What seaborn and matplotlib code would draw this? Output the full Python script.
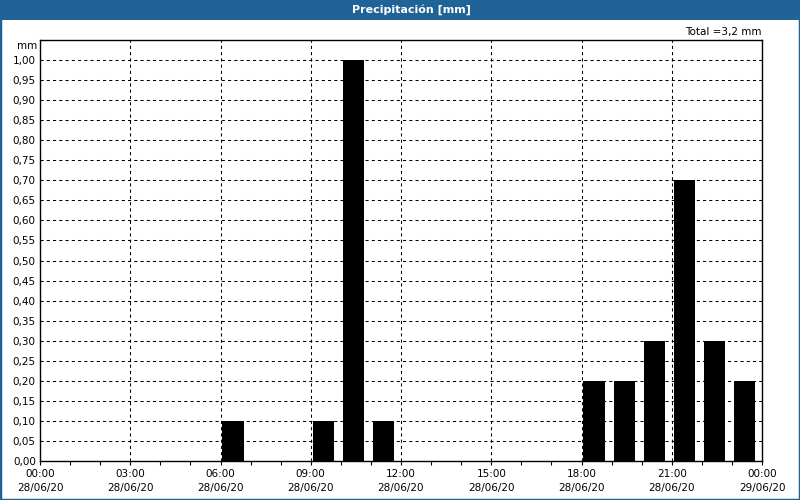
import matplotlib
matplotlib.use('Agg')
import matplotlib.pyplot as plt
import seaborn as sns
import pandas as pd
from matplotlib.patches import Rectangle

# ---- data ----
hours = [6, 9, 10, 11, 18, 19, 20, 21, 22, 23]
precip = [0.1, 0.1, 1.0, 0.1, 0.2, 0.2, 0.3, 0.7, 0.3, 0.2]
tick_hours = [0, 3, 6, 9, 12, 15, 18, 21, 24]
tick_labels = ["00:00\n28/06/20", "03:00\n28/06/20", "06:00\n28/06/20",
               "09:00\n28/06/20", "12:00\n28/06/20", "15:00\n28/06/20",
               "18:00\n28/06/20", "21:00\n28/06/20", "00:00\n29/06/20"]
y_ticks = [i * 0.05 for i in range(21)]
y_labels = [f"{v:.2f}".replace('.', ',') for v in y_ticks]
title = "Precipitación [mm]"
total_text = "Total =3,2 mm"

BLUE = '#1f6397'

sns.set_theme(style='white')
plt.rcParams['font.family'] = ['DejaVu Sans']
plt.rcParams['text.color'] = 'black'
plt.rcParams['xtick.color'] = 'black'
plt.rcParams['ytick.color'] = 'black'

fig = plt.figure(figsize=(8, 5), dpi=100)
fig.patch.set_facecolor('white')

W, H = 800, 500
l, r, t, b = 40, 762, 40, 461
ax = fig.add_axes([l / W, 1 - b / H, (r - l) / W, (b - t) / H])

# bars start just after the hour: center offset within the hour slot
df = pd.DataFrame({'hour': [h + 0.42 for h in hours], 'mm': precip})
sns.barplot(data=df, x='hour', y='mm', native_scale=True, width=0.71,
            color='black', saturation=1, ax=ax, edgecolor='none',
            linewidth=0, errorbar=None)

ax.set_xlim(0, 24)
ax.set_ylim(0, 1.05)
ax.set_xlabel('')
ax.set_ylabel('')

ax.set_xticks(tick_hours)
ax.set_xticklabels(tick_labels, fontsize=7.5, linespacing=1.45)
ax.set_xticks(range(25), minor=True)
ax.set_yticks(y_ticks)
ax.set_yticklabels(y_labels, fontsize=7.5)

ax.tick_params(axis='x', which='both', direction='out', length=2.6, width=0.8,
               color='black', labelcolor='black', bottom=True, pad=3.5)
ax.tick_params(axis='y', which='both', length=0, pad=3, labelcolor='black')

for s in ax.spines.values():
    s.set_visible(True)
    s.set_color('black')
    s.set_linewidth(1.0)

ax.set_axisbelow(True)
ax.grid(True, which='major', axis='both', color='black',
        linestyle=(0, (3, 3)), linewidth=0.75)

# "mm" unit label above y ticks
fig.text(37 / W, 1 - 46 / H, 'mm', ha='right', va='center', fontsize=7.5,
         color='black')
# total text
fig.text(762 / W, 1 - 32 / H, total_text, ha='right', va='center',
         fontsize=7.5, color='black')

# title bar
fig.patches.append(Rectangle((0, 1 - 20 / H), 1, 20 / H,
                             transform=fig.transFigure, facecolor=BLUE,
                             edgecolor='none', zorder=0))
fig.text(411 / W, 1 - 10 / H, title, ha='center', va='center',
         fontsize=8, color='white', fontweight='bold')
# outer border
fig.patches.append(Rectangle((0, 0), 1, 1, transform=fig.transFigure,
                             fill=False, edgecolor=BLUE, linewidth=2.5,
                             zorder=5))

fig.savefig('out.png', dpi=100)
